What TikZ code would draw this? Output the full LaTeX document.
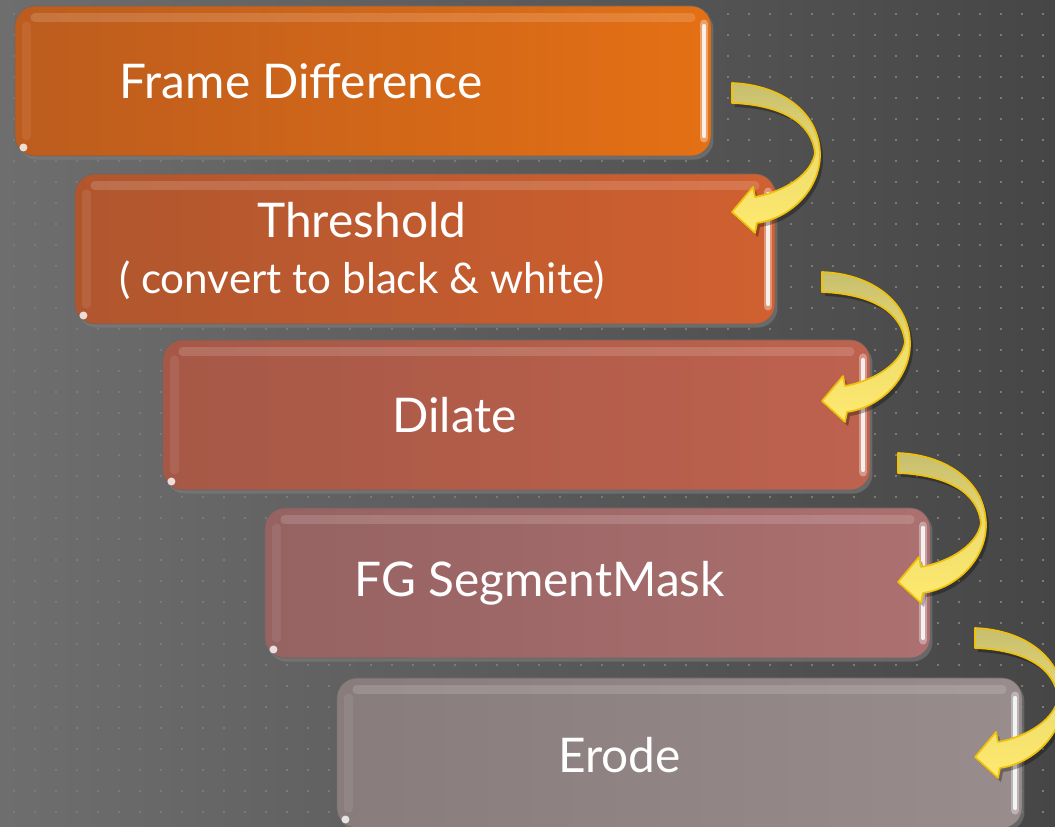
\documentclass[tikz,border=0pt]{standalone}
\usepackage{fontspec}
\setmainfont{Lato}
\usetikzlibrary{shadows}

\definecolor{bgleft}{RGB}{110,110,110}
\definecolor{bgright}{RGB}{70,70,70}
\definecolor{griddot}{RGB}{122,122,122}
\definecolor{oneL}{RGB}{188,92,30}
\definecolor{oneR}{RGB}{228,112,20}
\definecolor{twoL}{RGB}{176,86,46}
\definecolor{twoR}{RGB}{208,96,48}
\definecolor{threeL}{RGB}{166,88,70}
\definecolor{threeR}{RGB}{190,98,78}
\definecolor{fourL}{RGB}{150,98,98}
\definecolor{fourR}{RGB}{172,112,112}
\definecolor{fiveL}{RGB}{136,124,124}
\definecolor{fiveR}{RGB}{152,140,140}
\definecolor{ribbontop}{RGB}{198,190,112}
\definecolor{ribbonbot}{RGB}{255,234,110}
\definecolor{ribbonrim}{RGB}{240,192,10}

\tikzset{
  stagebox/.style n args={3}{rounded corners=0.5cm, minimum width=#1,
    minimum height=3.75cm, left color=#2, right color=#3,
    draw=black!60, line width=0.4pt,
    drop shadow={opacity=0.55, shadow xshift=0.06cm, shadow yshift=-0.09cm}},
  stagetext/.style={text=white, align=center, font=\fontsize{34}{40}\selectfont},
  pics/turnarrow/.style={code={
    \fill[black, opacity=0.3, shift={(3,4)}]
      (0,-10) .. controls (50,-8) and (88,20) .. (88,62)
      .. controls (88,95) and (60,125) .. (25,130) -- (23,140) -- (0,119)
      -- (21,94) -- (23,104) .. controls (55,98) and (80,80) .. (83,60)
      .. controls (80,30) and (50,12) .. (0,10) -- cycle;
    \shade[top color=ribbontop, bottom color=ribbonbot, middle color=ribbonbot!70!ribbontop,
      draw=ribbonrim, line width=1.2pt, line join=round]
      (0,-10) .. controls (50,-8) and (88,20) .. (88,62)
      .. controls (88,95) and (60,125) .. (25,130) -- (23,140) -- (0,119)
      -- (21,94) -- (23,104) .. controls (55,98) and (80,80) .. (83,60)
      .. controls (80,30) and (50,12) .. (0,10) -- cycle;
  }}
}

\begin{document}
\begin{tikzpicture}[x=0.025cm, y=-0.025cm]

\useasboundingbox (0,0) rectangle (1055,827);
\clip (0,0) rectangle (1055,827);

% background
\shade[left color=bgleft, right color=bgright] (0,0) rectangle (1055,827);
\foreach \i in {0,...,49}
  \foreach \j in {0,...,38}
    \fill[griddot] (12.7+21*\i,12.7+21*\j) rectangle +(2,2);

% stages
\node[stagebox={17.4cm}{oneL}{oneR}] (b1) at (363,81) {};
\node[stagebox={17.5cm}{twoL}{twoR}] (b2) at (425,249) {};
\node[stagebox={17.675cm}{threeL}{threeR}] (b3) at (516.5,415) {};
\node[stagebox={16.625cm}{fourL}{fourR}] (b4) at (597.5,583) {};
\node[stagebox={17.125cm}{fiveL}{fiveR}] (b5) at (679.5,753) {};

% glossy edges
\foreach \b in {b1,b2,b3,b4,b5} {
  \draw[white, opacity=0.15, line width=6pt, line cap=round]
    ([xshift=0.5cm, yshift=-0.3cm]\b.north west) -- ([xshift=-0.5cm, yshift=-0.3cm]\b.north east);
  \draw[white, opacity=0.08, line width=6pt, line cap=round]
    ([xshift=0.3cm, yshift=-0.5cm]\b.north west) -- ([xshift=0.3cm, yshift=0.5cm]\b.south west);
  \draw[white, opacity=0.35, line width=6pt, line cap=round]
    ([xshift=-0.18cm, yshift=-0.45cm]\b.north east) -- ([xshift=-0.18cm, yshift=0.45cm]\b.south east);
  \draw[white, opacity=0.85, line width=2.5pt, line cap=round]
    ([xshift=-0.18cm, yshift=-0.5cm]\b.north east) -- ([xshift=-0.18cm, yshift=0.5cm]\b.south east);
  \fill[white, opacity=0.8] ([xshift=0.22cm, yshift=0.22cm]\b.south west) circle (4);
}

% labels
\node[stagetext] (t1) at ([xshift=-1.55cm]b1.center) {Frame Difference};
\node[stagetext] (t2) at ([xshift=-1.58cm, yshift=-0.05cm]b2.center)
  {Threshold\\[0pt]{\fontsize{30}{36}\selectfont ( convert to black \& white)}};
\node[stagetext] (t3) at ([xshift=-1.55cm]b3.center) {Dilate};
\node[stagetext] (t4) at ([xshift=-1.45cm]b4.center) {FG SegmentMask};
\node[stagetext] (t5) at ([xshift=-1.5cm, yshift=-0.05cm]b5.center) {Erode};

% curved arrows
\coordinate (a1) at (732,93);
\coordinate (a2) at (822,282);
\coordinate (a3) at (898,463);
\coordinate (a4) at (975,638);
\foreach \a in {a1,a2,a3,a4}
  \pic at (\a) {turnarrow};

\end{tikzpicture}
\end{document}
